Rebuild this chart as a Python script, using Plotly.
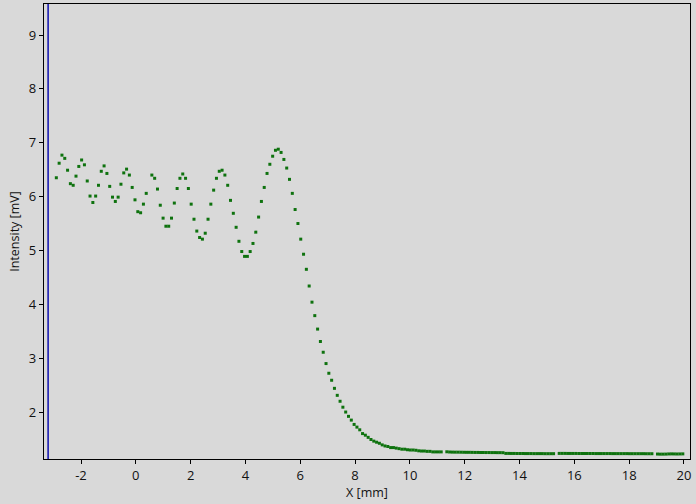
import plotly.graph_objects as go

# Sampling grid of the measurement (uniform step)
x_start = -2.90
x_step = 0.1025

intensity_mv = [
    6.35, 6.62, 6.77, 6.71, 6.49, 6.24, 6.21, 6.38, 6.56, 6.68,
    6.59, 6.29, 6.01, 5.89, 6.01, 6.21, 6.47, 6.57, 6.43, 6.19,
    5.99, 5.91, 5.99, 6.23, 6.44, 6.51, 6.40, 6.17, 5.94, 5.72,
    5.70, 5.86, 6.06, None, 6.40, 6.34, 6.14, 5.84, 5.60, 5.45,
    5.45, 5.60, 5.88, 6.15, 6.34, 6.42, 6.34, 6.15, 5.86, 5.58,
    5.36, 5.24, 5.21, 5.32, 5.58, 5.86, 6.12, 6.34, 6.47, 6.49,
    6.40, 6.21, 5.93, 5.69, 5.43, 5.17, 4.98, 4.89, 4.89, 4.98,
    5.13, 5.34, 5.62, 5.91, 6.17, 6.43, 6.60, 6.75, 6.86, 6.88,
    6.82, 6.69, 6.53, 6.32, 6.06, 5.76, 5.50, 5.21, 4.93, 4.65,
    4.34, 4.04, 3.79, 3.54, 3.31, 3.11, 2.90, 2.72, 2.59, 2.44,
    2.31, 2.20, 2.09, 2.00, 1.92, 1.85, 1.77, 1.72, 1.67, 1.60,
    1.57, 1.53, 1.49, 1.46, 1.44, 1.42, 1.39, 1.37, 1.36, 1.34,
    1.34, 1.33, 1.32, 1.31, 1.31, 1.30, 1.295, 1.295, 1.29, 1.28,
    1.276, 1.276, 1.27, 1.27, 1.26, 1.26, 1.26, 1.26, None, 1.262,
    1.258, 1.256, 1.255, 1.255, 1.254, 1.253, 1.252, 1.252, 1.251, 1.250,
    1.250, 1.249, 1.249, 1.248, 1.248, 1.247, 1.247, 1.246, 1.246, 1.245,
    1.232, 1.232, 1.231, 1.231, 1.230, 1.230, 1.230, 1.229, 1.229, 1.229,
    1.228, 1.228, 1.228, 1.228, 1.227, 1.227, 1.227, 1.227, None, 1.232,
    1.232, 1.232, 1.231, 1.231, 1.231, 1.231, 1.230, 1.230, 1.230, 1.230,
    1.230, 1.230, 1.229, 1.229, 1.229, 1.229, 1.229, 1.229, 1.228, 1.228,
    1.228, 1.228, 1.228, 1.228, 1.227, 1.227, 1.227, 1.227, 1.227, 1.227,
    1.226, 1.226, 1.226, None, 1.220, 1.218, 1.218, 1.219, 1.222, 1.223,
    1.222, 1.221, 1.222, 1.223,
]

cursor_x = -3.2  # vertical cursor line position [mm]

x_ticks = [-2, 0, 2, 4, 6, 8, 10, 12, 14, 16, 18, 20]
y_ticks = [2, 3, 4, 5, 6, 7, 8, 9]

bg = "#d9d9d9"
font_family = "Open Sans, DejaVu Sans, sans-serif"

fig = go.Figure()
fig.add_trace(go.Scatter(
    x0=x_start, dx=x_step, y=intensity_mv,
    mode="markers",
    marker=dict(symbol="square", size=3, color="#0e720e", line=dict(width=0)),
    showlegend=False,
))

fig.add_shape(type="line", xref="x", yref="paper",
              x0=cursor_x, x1=cursor_x, y0=0, y1=1,
              line=dict(color="#1010b0", width=1.5))

axis_common = dict(
    showline=True, linecolor="black", linewidth=1.2, mirror=True,
    ticks="outside", ticklen=4, tickcolor="black", tickwidth=1,
    showgrid=False, zeroline=False,
    tickfont=dict(family=font_family, size=13, color="#111111"),
)

fig.update_xaxes(range=[-3.35, 20.22], tickvals=x_ticks,
                 ticktext=[str(v) for v in x_ticks],
                 title=dict(text="X [mm]", standoff=5,
                            font=dict(family=font_family, size=12.5, color="#111111")),
                 **axis_common)
fig.update_yaxes(range=[1.128, 9.576], tickvals=y_ticks,
                 ticktext=[str(v) for v in y_ticks],
                 title=dict(text="Intensity [mV]", standoff=6,
                            font=dict(family=font_family, size=12.5, color="#111111")),
                 **axis_common)

fig.update_layout(
    width=696, height=504,
    margin=dict(l=44, r=6, t=4, b=45),
    paper_bgcolor=bg, plot_bgcolor=bg,
    font=dict(family=font_family, size=12.5, color="#111111"),
)

fig.write_html("out.html",
               config={"displayModeBar": False},
               post_script="document.body.style.margin='0';document.body.style.padding='0';document.body.style.background='#d9d9d9';")
